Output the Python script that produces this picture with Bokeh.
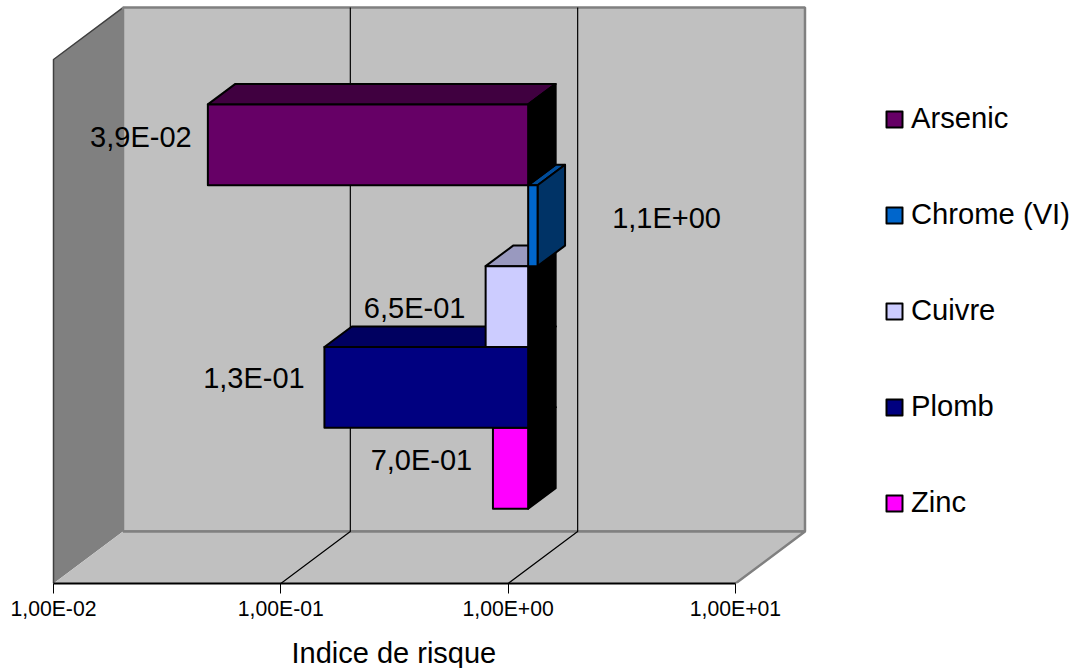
from bokeh.plotting import figure
from bokeh.models import FixedTicker, Legend, LegendItem, ColumnDataSource, LogAxis, LogScale, Title
from bokeh.core.properties import value
from bokeh.embed import file_html
from bokeh.resources import INLINE

# ---- data
series = ["Arsenic", "Chrome (VI)", "Cuivre", "Plomb", "Zinc"]
values = [0.039, 1.1, 0.65, 0.127, 0.70]
value_labels = ["3,9E-02", "1,1E+00", "6,5E-01", "1,3E-01", "7,0E-01"]
ticks = [0.01, 0.1, 1.0, 10.0]
tick_labels = ["1,00E-02", "1,00E-01", "1,00E+00", "1,00E+01"]
axis_title = "Indice de risque"

# ---- styles
front_colors = ["#660066", "#0066CC", "#CCCCFF", "#000080", "#FF00FF"]
top_colors = ["#400040", "#004C99", "#9999BF", "#000060", "#BF00BF"]
side_colors = ["#000000", "#003366", "#000000", "#000000", "#000000"]
FONT = "Liberation Sans"

# ---- layout (figure px)
W, H = 1074, 668
AX_LEFT = 53.0          # px of 1e-2 on the front edge
AX_BOTTOM = 584.0       # px of the front axis
PX_DECADE = 227.33
PX_ROW = 81.0
DEPTH_X = 69.5 / PX_DECADE    # decades per unit of depth
DEPTH_Y = 52.0 / PX_ROW       # rows per unit of depth
GAP = 0.74
BAR_D0, BAR_D1 = 20.0 / 69.5, 47.5 / 69.5
BASE = 1.0

x_lo = 10 ** (-2 - AX_LEFT / PX_DECADE)
x_hi = 10 ** (-2 + (W - AX_LEFT) / PX_DECADE)
y_hi = AX_BOTTOM / PX_ROW
y_top = 2 * GAP + len(series)

# offsets of the value labels from the bar end (screen px)
label_dx = [-67, 129, -71, -70.5, -71.5]
label_dy = [-7.5, -8, 1.5, -9.5, -8]


def P(v, y, d):
    return v * 10 ** (d * DEPTH_X), y + d * DEPTH_Y


def poly(pts):
    xs, ys = zip(*[P(*q) for q in pts])
    return list(xs), list(ys)


p = figure(width=W, height=H, x_axis_type=None, y_axis_type="linear",
           x_range=(x_lo, x_hi), y_range=(0, y_hi), x_axis_location=None,
           output_backend="svg", toolbar_location=None,
           min_border_left=0, min_border_right=0, min_border_top=0,
           min_border_bottom=int(H - AX_BOTTOM))
p.x_scale = LogScale()
p.yaxis.visible = False
p.xgrid.visible = False
p.ygrid.visible = False
p.outline_line_color = None
p.background_fill_color = "white"

x0, x1 = ticks[0], ticks[-1]
WALL = "#C0C0C0"
EDGE = "#808080"

# left wall
xs, ys = poly([(x0, 0, 0), (x0, 0, 1), (x0, y_top, 1), (x0, y_top, 0)])
p.patch(xs, ys, fill_color="#808080", line_color=None)
xs, ys = poly([(x0, 0, 0), (x0, y_top, 0), (x0, y_top, 1)])
p.line(xs, ys, line_color="#404040", line_width=1.5)
# back wall
xs, ys = poly([(x0, 0, 1), (x1, 0, 1), (x1, y_top, 1), (x0, y_top, 1)])
p.patch(xs, ys, fill_color=WALL, line_color=EDGE, line_width=2.5)
# floor
xs, ys = poly([(x0, 0, 0), (x1, 0, 0), (x1, 0, 1), (x0, 0, 1)])
p.patch(xs, ys, fill_color=WALL, line_color=None)
xs, ys = poly([(x1, 0, 0), (x1, 0, 1), (x0, 0, 1)])
p.line(xs, ys, line_color=EDGE, line_width=2.5)
# grid lines
for t in ticks[1:-1]:
    xs, ys = poly([(t, 0, 0), (t, 0, 1), (t, y_top, 1)])
    p.line(xs, ys, line_color="black", line_width=1.2)

# bars, bottom row first
n = len(series)
fronts = {}
for i in range(n - 1, -1, -1):
    v = values[i]
    lo = GAP + (n - 1 - i)
    hi = lo + 1
    a, b = min(v, BASE), max(v, BASE)
    st = dict(line_color="black", line_width=2, line_join="round")
    xs, ys = poly([(a, hi, BAR_D0), (b, hi, BAR_D0), (b, hi, BAR_D1), (a, hi, BAR_D1)])
    p.patch(xs, ys, fill_color=top_colors[i], **st)
    xs, ys = poly([(b, lo, BAR_D0), (b, lo, BAR_D1), (b, hi, BAR_D1), (b, hi, BAR_D0)])
    p.patch(xs, ys, fill_color=side_colors[i], **st)
    xs, ys = poly([(a, lo, BAR_D0), (b, lo, BAR_D0), (b, hi, BAR_D0), (a, hi, BAR_D0)])
    fronts[i] = p.patch(xs, ys, fill_color=front_colors[i], **st)

# value labels
lx, ly = [], []
for i, v in enumerate(values):
    xx, yy = P(v, GAP + (n - 1 - i) + 0.5, BAR_D0)
    lx.append(xx)
    ly.append(yy)
src = ColumnDataSource(dict(x=lx, y=ly, t=value_labels, dx=label_dx, dy=label_dy))
p.text("x", "y", text="t", source=src, x_offset="dx", y_offset="dy",
       text_align="center", text_baseline="middle", text_color="black",
       text_font=value(FONT), text_font_size="29px")

# axis (its blank label only adds room between the tick labels and the title)
ax = LogAxis(ticker=FixedTicker(ticks=ticks), bounds=(x0, x1),
             major_label_overrides={t: s for t, s in zip(ticks, tick_labels)},
             major_label_text_font=FONT, major_label_text_font_size="21.2px",
             major_label_text_color="black", major_label_standoff=3,
             axis_label=" ", axis_label_standoff=0, axis_label_text_font_size="8px",
             axis_line_color="black", axis_line_width=2,
             major_tick_line_color="black", major_tick_line_width=1,
             major_tick_in=0, major_tick_out=10,
             minor_tick_in=0, minor_tick_out=0)
p.add_layout(ax, "below")

# axis title, centred on the axis span rather than the frame
p.add_layout(Title(text=axis_title, align="left", offset=291, standoff=0,
                   text_color="black", text_font=FONT, text_font_style="normal",
                   text_font_size="29px"), "below")

# legend
leg = Legend(items=[LegendItem(label=s, renderers=[fronts[i]]) for i, s in enumerate(series)],
             location=(884, 64), orientation="vertical",
             glyph_width=20, glyph_height=20, label_standoff=7,
             label_height=20, spacing=63, margin=0, padding=0,
             background_fill_alpha=0, border_line_color=None,
             label_text_font=FONT, label_text_font_size="29.2px", label_text_color="black",
             click_policy="none")
p.add_layout(leg, "center")

open("out.html", "w").write(file_html(p, INLINE))
